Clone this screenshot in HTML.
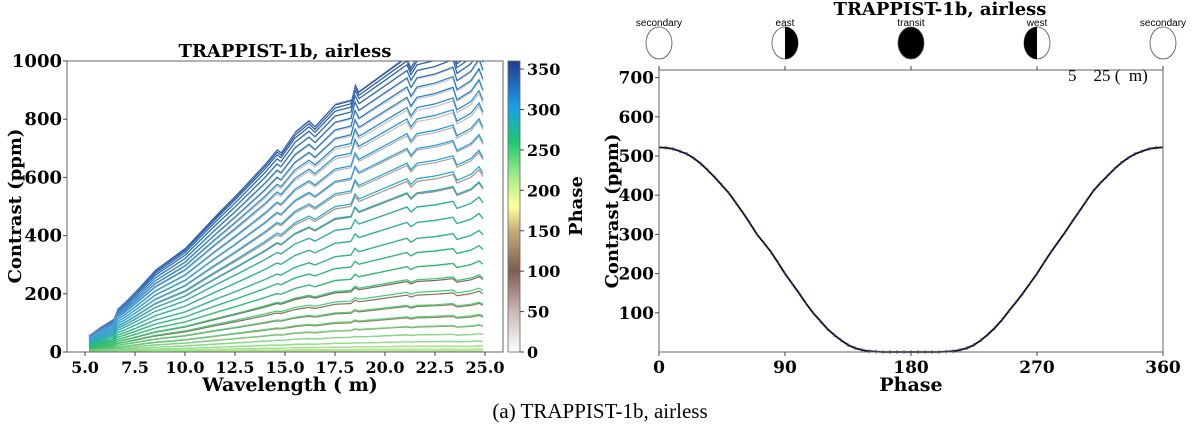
<!DOCTYPE html>
<html><head><meta charset="utf-8"><style>
body{margin:0;background:#fff;width:1200px;height:432px;overflow:hidden}
svg{display:block}
.t{font-family:"DejaVu Serif","Liberation Serif",serif;font-weight:bold}
.s{font-family:"Liberation Sans",sans-serif}
</style></head><body>
<svg id="fig" width="1200" height="432" viewBox="0 0 1200 432">
<defs>
<linearGradient id="cbar" x1="0" y1="1" x2="0" y2="0">
<stop offset="0" stop-color="#ffffff"/><stop offset="0.14" stop-color="#c9b8b4"/><stop offset="0.28" stop-color="#7e5c52"/><stop offset="0.42" stop-color="#c6b07a"/><stop offset="0.5" stop-color="#ffff99"/><stop offset="0.6" stop-color="#a8ee8c"/><stop offset="0.72" stop-color="#1ec86e"/><stop offset="0.84" stop-color="#1aa0e6"/><stop offset="1" stop-color="#233b8f"/>
</linearGradient>
<clipPath id="lclip"><rect x="67" y="61" width="436" height="291"/></clipPath>
</defs>
<g id="left"></g>
<g id="right"></g>
<text x="600" y="418" text-anchor="middle" font-family="Liberation Serif, serif" font-size="21">(a) TRAPPIST-1b, airless</text>
</svg>
<script>
// phase curve data (deg, ppm)
const phases=[0,5,10,15,20,25,30,35,40,45,50,55,60,65,70,75,80,85,90,95,100,105,110,115,120,125,130,135,140,145,150,155,160,165,170,175,180,185,190,195,200,205,210,215,220,225,230,235,240,245,250,255,260,265,270,275,280,285,290,295,300,305,310,315,320,325,330,335,340,345,350,355,360];
const contrast=[522,521,518,512,505,494,480,463,445,425,405,380,355,328,300,278,255,228,200,175,150,124,100,80,60,44,30,18,10,5,2,1,0,0,0,0,0,0,0,0,0,1,2,5,10,18,30,45,62,82,105,127,150,175,200,228,255,280,305,332,358,384,410,430,448,466,482,495,505,512,518,521,522];
// spectrum shape (wavelength um, ppm for max-phase curve)
const wavelengths=[5.2,5.8,6.4,6.6,7.0,7.5,8.5,10,11.5,12.5,14,14.6,14.8,15.5,16.2,16.5,17.5,18.3,18.5,18.7,19.5,20.5,21.1,21.3,21.6,22.5,23.4,23.6,24.3,24.7,24.9];
const shape=[60,90,115,150,175,210,285,360,470,540,650,700,690,760,800,780,855,870,930,900,940,990,1020,985,1020,1035,1060,1010,1045,1090,1050];
const yTicksL=[0,200,400,600,800,1000];
const xTicksL=[5.0,7.5,10.0,12.5,15.0,17.5,20.0,22.5,25.0];
const cbTicks=[0,50,100,150,200,250,300,350];
const yTicksR=[100,200,300,400,500,600,700];
const xTicksR=[0,90,180,270,360];
const moonNames=["secondary","east","transit","west","secondary"];
const moonPhases=[0,90,180,270,360];

const NS="http://www.w3.org/2000/svg";
function mk(p,tag,at,txt){const e=document.createElementNS(NS,tag);for(const k in at)e.setAttribute(k,at[k]);if(txt!==undefined)e.textContent=txt;p.appendChild(e);return e;}
const xL=v=>85+(v-5)*20, yL=v=>352-v*0.291;
const L=document.getElementById('left');
function cmap(p){
 const st=[[0,[255,255,255]],[50,[201,184,180]],[100,[126,92,82]],[150,[198,176,122]],[180,[255,255,153]],[215,[168,238,140]],[260,[30,200,110]],[300,[26,160,230]],[360,[35,59,143]]];
 for(let i=0;i<st.length-1;i++){if(p<=st[i+1][0]){const t=(p-st[i][0])/(st[i+1][0]-st[i][0]);return 'rgb('+st[i][1].map((c,j)=>Math.round(c+(st[i+1][1][j]-c)*t)).join(',')+')';}}
 return 'rgb(35,59,143)';
}
const lines=mk(L,'g',{'clip-path':'url(#lclip)'});
const order=phases.slice(0,-1).map((p,i)=>i).sort((a,b)=>contrast[a]-contrast[b]);
order.forEach(i=>{
 const amp=contrast[i]/contrast[0];
 const d=wavelengths.map((w,k)=>(k?'L':'M')+xL(w).toFixed(1)+','+yL(shape[k]*amp).toFixed(1)).join('');
 const e=mk(lines,'path',{d:d,fill:'none',stroke:cmap(phases[i]),'stroke-width':1.2});
 
 
});
mk(L,'rect',{x:67,y:61,width:436,height:291,fill:'none',stroke:'#666','stroke-width':1,});
yTicksL.forEach(v=>{mk(L,'line',{x1:63,x2:67,y1:yL(v),y2:yL(v),stroke:'#444'});const e=mk(L,'text',{x:62,y:yL(v)+6,'text-anchor':'end','font-size':18,class:'t'},v);});
xTicksL.forEach(v=>{mk(L,'line',{x1:xL(v),x2:xL(v),y1:352,y2:356,stroke:'#444'});const e=mk(L,'text',{x:xL(v),y:373,'text-anchor':'middle','font-size':16,class:'t'},v.toFixed(1));});
mk(L,'text',{x:285,y:57,'text-anchor':'middle','font-size':18,class:'t',},'TRAPPIST-1b, airless');
mk(L,'text',{x:290,y:391,'text-anchor':'middle','font-size':19,class:'t',},'Wavelength (  m)');
mk(L,'text',{x:0,y:0,transform:'translate(21,206) rotate(-90)','text-anchor':'middle','font-size':18,class:'t',},'Contrast (ppm)');
mk(L,'rect',{x:508,y:61,width:12,height:291,fill:'url(#cbar)',stroke:'#666','stroke-width':0.8,});
const yC=v=>352-v*291/360;
cbTicks.forEach(v=>{mk(L,'line',{x1:520,x2:524,y1:yC(v),y2:yC(v),stroke:'#444'});const e=mk(L,'text',{x:527,y:yC(v)+6,'font-size':16,class:'t'},v);});
mk(L,'text',{x:0,y:0,transform:'translate(582,206) rotate(-90)','text-anchor':'middle','font-size':18,class:'t',},'Phase');
const xR=v=>659+v*504/360, yR=v=>352-v*0.392;
const R=document.getElementById('right');
const d2=phases.map((p,i)=>(i?'L':'M')+xR(p).toFixed(1)+','+yR(contrast[i]).toFixed(1)).join('');
mk(R,'path',{d:d2,fill:'none',stroke:'#111','stroke-width':1.8,});
phases.forEach((p,i)=>{const e=mk(R,'line',{x1:xR(p),x2:xR(p),y1:yR(contrast[i])-2,y2:yR(contrast[i])+2,stroke:'#33c','stroke-width':0.8});});
mk(R,'rect',{x:659,y:70,width:504,height:282,fill:'none',stroke:'#666','stroke-width':1,});
yTicksR.forEach(v=>{mk(R,'line',{x1:655,x2:659,y1:yR(v),y2:yR(v),stroke:'#444'});const e=mk(R,'text',{x:654,y:yR(v)+6,'text-anchor':'end','font-size':17,class:'t'},v);});
xTicksR.forEach(v=>{mk(R,'line',{x1:xR(v),x2:xR(v),y1:352,y2:356,stroke:'#444'});mk(R,'line',{x1:xR(v),x2:xR(v),y1:70,y2:66,stroke:'#444'});const e=mk(R,'text',{x:xR(v),y:373,'text-anchor':'middle','font-size':17,class:'t'},v);});
mk(R,'text',{x:911,y:391,'text-anchor':'middle','font-size':19,class:'t',},'Phase');
mk(R,'text',{x:0,y:0,transform:'translate(618,211) rotate(-90)','text-anchor':'middle','font-size':18,class:'t',},'Contrast (ppm)');
mk(R,'text',{x:940,y:15,'text-anchor':'middle','font-size':18,class:'t',},'TRAPPIST-1b, airless');
mk(R,'text',{x:1068,y:81,'font-size':17,'font-family':'Liberation Serif, serif','xml:space':'preserve','style':'white-space:pre',},'5    25 (  m)');
moonPhases.forEach((p,i)=>{
 const cx=xR(p),cy=43;
 const g=mk(R,'g',{});
 
 
 mk(g,'text',{x:cx,y:26,'text-anchor':'middle','font-size':10,class:'s'},moonNames[i]);
 mk(g,'ellipse',{cx:cx,cy:cy,rx:13,ry:16,fill:p===180?'#000':'#fff',stroke:'#555','stroke-width':0.8});
 if(p===90) mk(g,'path',{d:`M${cx},${cy-16} A13,16 0 0 1 ${cx},${cy+16}Z`,fill:'#000'});
 if(p===270) mk(g,'path',{d:`M${cx},${cy-16} A13,16 0 0 0 ${cx},${cy+16}Z`,fill:'#000'});
});
</script>
</body></html>
